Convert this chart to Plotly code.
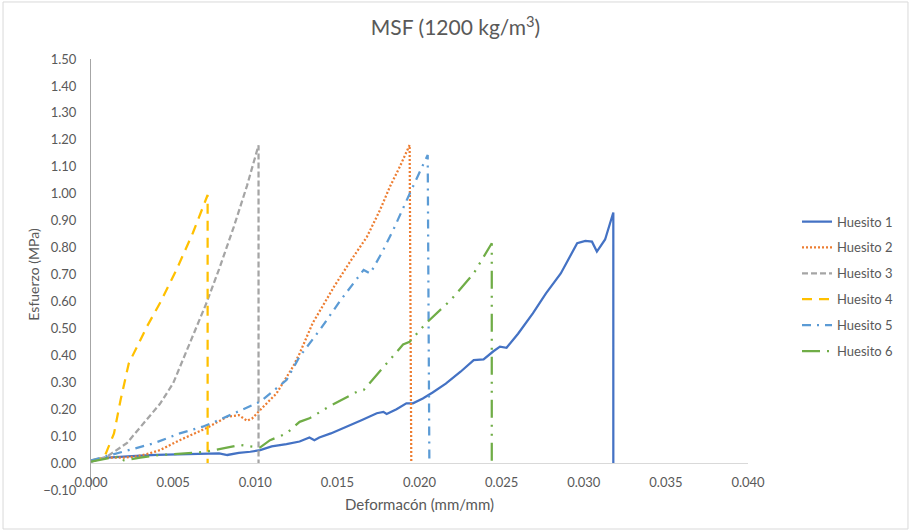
import plotly.graph_objects as go

# Strain (mm/mm) and stress (MPa) readings for each specimen
h1_x = [0.0000, 0.0005, 0.0010, 0.0020, 0.0030, 0.0040, 0.0050, 0.0060, 0.0070, 0.0078,
        0.0083, 0.0090, 0.0097, 0.0103, 0.0110, 0.0119, 0.0127, 0.0133, 0.0136, 0.0139,
        0.0146, 0.0156, 0.0165, 0.0174, 0.0178, 0.0180, 0.0186, 0.0192, 0.0196, 0.0202,
        0.0208, 0.0216, 0.0225, 0.0233, 0.0239, 0.0245, 0.0249, 0.0253, 0.0260, 0.0269,
        0.0277, 0.0286, 0.0292, 0.0296, 0.0301, 0.0305, 0.0308, 0.0313, 0.0318, 0.0318]
h1_y = [0.005, 0.015, 0.020, 0.025, 0.028, 0.030, 0.032, 0.033, 0.034, 0.036,
        0.030, 0.038, 0.042, 0.048, 0.062, 0.070, 0.080, 0.095, 0.085, 0.095,
        0.110, 0.135, 0.160, 0.185, 0.190, 0.182, 0.200, 0.222, 0.222, 0.240,
        0.262, 0.295, 0.339, 0.382, 0.385, 0.415, 0.432, 0.428, 0.480, 0.556,
        0.630, 0.704, 0.770, 0.816, 0.825, 0.822, 0.785, 0.830, 0.930, 0.000]

h2_x = [0.0000, 0.0010, 0.0020, 0.0028, 0.0035, 0.0042, 0.0054, 0.0070, 0.0083, 0.0090,
        0.0095, 0.0098, 0.0103, 0.0113, 0.0123, 0.0127, 0.0135, 0.0148, 0.0158, 0.0168,
        0.0176, 0.0182, 0.0188, 0.0194, 0.0195]
h2_y = [0.010, 0.020, 0.020, 0.025, 0.035, 0.048, 0.085, 0.129, 0.172, 0.178,
        0.157, 0.165, 0.197, 0.259, 0.358, 0.407, 0.520, 0.655, 0.750, 0.840,
        0.940, 1.026, 1.100, 1.181, 0.000]

h3_x = [0.0000, 0.0010, 0.0022, 0.0032, 0.0042, 0.0050, 0.0060, 0.0070, 0.0078, 0.0087,
        0.0095, 0.0102, 0.0102]
h3_y = [0.005, 0.025, 0.075, 0.147, 0.220, 0.296, 0.440, 0.590, 0.720, 0.878,
        1.030, 1.180, 0.000]

h4_x = [0.0000, 0.0008, 0.0014, 0.0018, 0.0023, 0.0028, 0.0034, 0.0042, 0.0052, 0.0062,
        0.0068, 0.0071, 0.0071]
h4_y = [0.010, 0.020, 0.110, 0.234, 0.370, 0.430, 0.506, 0.594, 0.717, 0.854,
        0.952, 0.995, 0.000]

h5_x = [0.0000, 0.0012, 0.0024, 0.0038, 0.0054, 0.0068, 0.0078, 0.0087, 0.0095, 0.0103,
        0.0119, 0.0127, 0.0140, 0.0152, 0.0166, 0.0170, 0.0177, 0.0184, 0.0194, 0.0200,
        0.0205, 0.0206]
h5_y = [0.010, 0.030, 0.048, 0.073, 0.110, 0.135, 0.160, 0.185, 0.205, 0.228,
        0.308, 0.395, 0.500, 0.605, 0.717, 0.704, 0.780, 0.865, 1.000, 1.080,
        1.144, 0.000]

h6_x = [0.0000, 0.0005, 0.0012, 0.0018, 0.0020, 0.0030, 0.0042, 0.0055, 0.0070, 0.0085,
        0.0091, 0.0097, 0.0103, 0.0109, 0.0119, 0.0127, 0.0133, 0.0145, 0.0162, 0.0166,
        0.0180, 0.0190, 0.0194, 0.0204, 0.0219, 0.0233, 0.0244, 0.0244]
h6_y = [0.005, 0.012, 0.020, 0.025, 0.010, 0.020, 0.030, 0.035, 0.042, 0.060,
        0.067, 0.062, 0.058, 0.085, 0.110, 0.153, 0.166, 0.210, 0.265, 0.271,
        0.370, 0.440, 0.450, 0.519, 0.605, 0.704, 0.816, 0.000]

names = ["Huesito 1", "Huesito 2", "Huesito 3", "Huesito 4", "Huesito 5", "Huesito 6"]
xs = [h1_x, h2_x, h3_x, h4_x, h5_x, h6_x]
ys = [h1_y, h2_y, h3_y, h4_y, h5_y, h6_y]
colors = ["#4472C4", "#ED7D31", "#A5A5A5", "#FFC000", "#5B9BD5", "#70AD47"]
dashes = ["solid", "2px,2px", "6px,3px", "10px,7px", "9px,6px,2px,6px",
          "18px,7px,2px,7px,2px,7px"]

FONT = "Lato"
TXT = "#595959"

fig = go.Figure()
for n, x, y, c, d in zip(names, xs, ys, colors, dashes):
    fig.add_trace(go.Scatter(
        x=x, y=y, name=n, mode="lines", legendgroup=n,
        line=dict(color=c, width=2.25, dash=d),
    ))

# plot area spans y from -0.10 to 1.50; the x axis sits on y = 0
y_lo, y_hi = -0.10, 1.50
zero_pos = (0 - y_lo) / (y_hi - y_lo)

fig.update_layout(
    width=911, height=531,
    margin=dict(l=91, r=163, t=59, b=41),
    paper_bgcolor="white", plot_bgcolor="white",
    font=dict(family=FONT, color=TXT, size=13),
    title=dict(text="MSF (1200 kg/m<sup>3</sup>)", x=0.5, xanchor="center",
               y=1 - 28 / 531, yanchor="middle",
               font=dict(family=FONT, size=21, color=TXT)),
    xaxis=dict(
        range=[0, 0.040], dtick=0.005, tick0=0, tickformat=".3f",
        anchor="free", position=zero_pos,
        showline=True, linecolor="#D9D9D9", linewidth=1,
        showgrid=False, zeroline=False, ticks="",
        ticklabelstandoff=7, automargin=False,
        tickfont=dict(family=FONT, size=13, color=TXT),
        title=dict(text="Deformacón (mm/mm)", standoff=10,
                   font=dict(family=FONT, size=15, color=TXT)),
    ),
    yaxis=dict(
        range=[y_lo, y_hi], dtick=0.1, tick0=0, tickformat=".2f",
        showline=True, linecolor="#A6A6A6", linewidth=1,
        showgrid=False, zeroline=False, ticks="",
        ticklabelstandoff=11, automargin=False,
        tickfont=dict(family=FONT, size=13, color=TXT),
        title=dict(text="Esfuerzo (MPa)", standoff=0,
                   font=dict(family=FONT, size=14, color=TXT)),
    ),
    legend=dict(
        x=1.0746, xanchor="left", y=0.472, yanchor="middle",
        font=dict(family=FONT, size=13, color=TXT),
        tracegroupgap=6, bgcolor="rgba(0,0,0,0)",
    ),
    shapes=[dict(
        type="rect", xref="paper", yref="paper",
        x0=-0.1339, x1=1.2435, y0=-0.0905, y1=1.1323,
        line=dict(color="#D9D9D9", width=1), fillcolor="rgba(0,0,0,0)",
        layer="below",
    )],
)

fig.write_html("out.html")
